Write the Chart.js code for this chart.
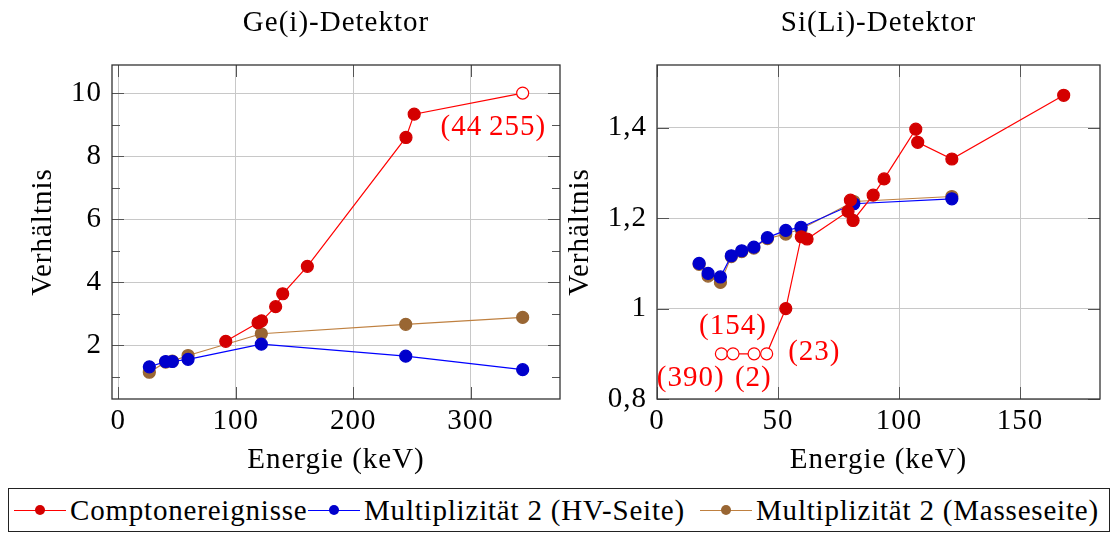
<!DOCTYPE html>
<html lang="de">
<head>
<meta charset="UTF-8">
<title>Ge(i)- und Si(Li)-Detektor</title>
<script src="https://cdn.jsdelivr.net/npm/chart.js@4.4.1/dist/chart.umd.js"></script>
<style>
  body { margin: 0; background: #fff; width: 1118px; height: 534px; position: relative; overflow: hidden;
         font-family: "Liberation Serif", "Times New Roman", serif; }
  canvas { position: absolute; top: 0; }
  #left { left: 0; }
  #right { left: 555px; }
  #legend { position: absolute; left: 8px; top: 488px; width: 1102px; height: 44px; border: 1px solid #222;
            box-sizing: border-box; }
  .item { position: absolute; top: 0; height: 42px; display: flex; align-items: center; font-size: 29px;
          letter-spacing: 0.8px; white-space: nowrap; color: #000; }
  .mark { position: relative; display: inline-block; width: 52px; height: 1px; margin-right: 4px; }
  .mark i { position: absolute; left: 21px; top: -4.5px; width: 10px; height: 10px; border-radius: 50%; }
</style>
</head>
<body>
<canvas id="left" width="570" height="480"></canvas>
<canvas id="right" width="563" height="480"></canvas>
<div id="legend"></div>

<script>
// series names (legend)
const seriesNames = ['Comptonereignisse', 'Multiplizität 2 (HV-Seite)', 'Multiplizität 2 (Masseseite)'];

// Ge(i)-Detektor
const geComptonE = [91.5, 119, 122, 134, 140, 161, 245, 252, 344.4];
const geComptonR = [2.12, 2.71, 2.77, 3.22, 3.63, 4.50, 8.59, 9.33, 10.0];
const geComptonOpen = [false, false, false, false, false, false, false, false, true];
const geHvE = [26.4, 40.3, 46, 59.4, 121.8, 244.8, 344.4];
const geHvR = [1.31, 1.48, 1.48, 1.55, 2.03, 1.65, 1.22];
const geMasseE = [26.4, 40.3, 46, 59.4, 121.8, 244.8, 344.4];
const geMasseR = [1.14, 1.46, 1.49, 1.67, 2.36, 2.66, 2.88];
const geYTicksMinor = [1, 3, 5, 7, 9];

// Si(Li)-Detektor
const siComptonE = [26.6, 31.4, 40.1, 45.3, 53.2, 59.6, 62.0, 78.9, 79.9, 81.0, 89.3, 93.8, 106.9, 107.7, 121.8, 168.0];
const siComptonR = [0.9, 0.9, 0.9, 0.9, 1.0, 1.159, 1.154, 1.215, 1.24, 1.195, 1.251, 1.287, 1.397, 1.368, 1.331, 1.472];
const siComptonOpen = [true, true, true, true, false, false, false, false, false, false, false, false, false, false, false, false];
const siHvE = [17.4, 21.1, 26.2, 30.7, 35.0, 40.0, 45.6, 53.2, 59.5, 81.3, 121.8];
const siHvR = [1.100, 1.078, 1.070, 1.117, 1.128, 1.136, 1.157, 1.173, 1.180, 1.232, 1.243];
const siMasseE = [17.4, 21.1, 26.2, 30.7, 35.0, 40.0, 45.6, 53.2, 59.5, 81.3, 121.8];
const siMasseR = [1.098, 1.072, 1.058, 1.115, 1.126, 1.134, 1.155, 1.165, 1.176, 1.237, 1.248];

// counts written next to out-of-range points
const geNotes = [{ text: '(44\u2009255)', x: 319.5, y: 8.92 }];
const siNotes = [
  { text: '(154)', x: 31.4, y: 0.96 },
  { text: '(390)', x: 13.9, y: 0.846 },
  { text: '(2)', x: 39.8, y: 0.846 },
  { text: '(23)', x: 65.0, y: 0.903 }
];

const FAMILY = '"Liberation Serif", "Times New Roman", serif';
const FONT = { family: FAMILY, size: 29, weight: 'normal' };
const GRID = '#c8c8c8';
const COLORS = [
  { line: '#ff0000', mark: '#d40000' },
  { line: '#0000ff', mark: '#0000cc' },
  { line: '#bf8040', mark: '#996633' }
];

function series(i, xs, ys, open) {
  const c = COLORS[i];
  return {
    label: seriesNames[i],
    data: xs.map((x, k) => ({ x: x, y: ys[k] })),
    borderColor: c.line,
    borderWidth: 1.2,
    pointRadius: 6,
    pointHoverRadius: 6,
    pointBorderWidth: 1.2,
    pointBorderColor: ctx => (open && open[ctx.dataIndex]) ? c.line : c.mark,
    pointBackgroundColor: ctx => (open && open[ctx.dataIndex]) ? '#ffffff' : c.mark,
    tension: 0,
    fill: false
  };
}

// the TeX font is a little wider than Liberation Serif
const spacing = {
  id: 'spacing',
  beforeDraw(chart) { chart.ctx.letterSpacing = '1px'; }
};

// frame + inside tick marks on all four sides
const frameTicks = {
  id: 'frameTicks',
  beforeDatasetsDraw(chart, args, opts) {
    const { ctx, chartArea: a, scales: { x, y } } = chart;
    ctx.save();
    ctx.strokeStyle = '#555';
    ctx.lineWidth = 1;
    ctx.beginPath();
    const yTick = (v, len) => {
      const p = Math.round(y.getPixelForValue(v)) + 0.5;
      ctx.moveTo(a.left, p); ctx.lineTo(a.left + len, p);
      ctx.moveTo(a.right, p); ctx.lineTo(a.right - len, p);
    };
    const xTick = (v, len) => {
      const p = Math.round(x.getPixelForValue(v)) + 0.5;
      ctx.moveTo(p, a.bottom); ctx.lineTo(p, a.bottom - len);
      ctx.moveTo(p, a.top); ctx.lineTo(p, a.top + len);
    };
    y.ticks.forEach(t => yTick(t.value, 12));
    x.ticks.forEach(t => xTick(t.value, 12));
    (opts.minorY || []).forEach(v => yTick(v, 8));
    ctx.stroke();
    ctx.strokeStyle = '#333';
    ctx.lineWidth = 1.3;
    ctx.strokeRect(a.left, a.top, a.right - a.left, a.bottom - a.top);
    ctx.restore();
  }
};

const notes = {
  id: 'notes',
  afterDatasetsDraw(chart, args, opts) {
    const { ctx, scales: { x, y } } = chart;
    ctx.save();
    ctx.font = FONT.size + 'px ' + FONT.family;
    ctx.fillStyle = '#ff0000';
    ctx.textAlign = 'center';
    ctx.textBaseline = 'middle';
    (opts.labels || []).forEach(n => ctx.fillText(n.text, x.getPixelForValue(n.x), y.getPixelForValue(n.y)));
    ctx.restore();
  }
};

function makeChart(id, cfg) {
  return new Chart(document.getElementById(id), {
    type: 'line',
    data: { datasets: cfg.datasets },
    plugins: [spacing, frameTicks, notes],
    options: {
      responsive: false,
      animation: false,
      events: [],
      layout: { padding: { left: 0, right: cfg.padRight, top: 0, bottom: 0 } },
      plugins: {
        legend: { display: false },
        tooltip: { enabled: false },
        title: {
          display: true, text: cfg.title, fullSize: false, color: '#000', font: FONT,
          padding: { top: 6, bottom: 65 - 6 - FONT.size * 1.2 }
        },
        frameTicks: { minorY: cfg.minorY },
        notes: { labels: cfg.notes }
      },
      scales: {
        x: {
          type: 'linear', min: cfg.xMin, max: cfg.xMax,
          afterFit: s => { s.height = 81; },
          ticks: { stepSize: cfg.xStep, color: '#000', font: FONT, padding: 5, maxRotation: 0, autoSkip: false, includeBounds: false },
          grid: { color: GRID, drawTicks: false },
          border: { display: false },
          title: { display: true, text: 'Energie (keV)', color: '#000', font: FONT, padding: { top: 0, bottom: 2.6 } }
        },
        y: {
          type: 'linear', min: cfg.yMin, max: cfg.yMax,
          afterFit: s => { s.width = cfg.yWidth; },
          ticks: { stepSize: cfg.yStep, color: '#000', font: FONT, padding: 10, autoSkip: false, includeBounds: false,
                   callback: v => String(Math.round(v * 10) / 10).replace('.', ',') },
          grid: { color: GRID, drawTicks: false },
          border: { display: false },
          title: { display: true, text: 'Verhältnis', color: '#000', font: FONT, padding: { top: cfg.yTitlePad, bottom: 0 } }
        }
      }
    }
  });
}

makeChart('left', {
  title: 'Ge(i)-Detektor',
  datasets: [
    series(0, geComptonE, geComptonR, geComptonOpen),
    series(1, geHvE, geHvR),
    series(2, geMasseE, geMasseR)
  ],
  notes: geNotes, minorY: geYTicksMinor,
  xMin: -5.4, xMax: 376.2, xStep: 100,
  yMin: 0.29, yMax: 10.89, yStep: 2,
  yWidth: 112, yTitlePad: 25.6, padRight: 10
});

makeChart('right', {
  title: 'Si(Li)-Detektor',
  datasets: [
    series(0, siComptonE, siComptonR, siComptonOpen),
    series(1, siHvE, siHvR),
    series(2, siMasseE, siMasseR)
  ],
  notes: siNotes, minorY: [],
  xMin: 0, xMax: 183, xStep: 50,
  yMin: 0.8, yMax: 1.539, yStep: 0.2,
  yWidth: 102, yTitlePad: 7.6, padRight: 18
});

// shared legend below both plots
const legend = document.getElementById('legend');
const legendLeft = [5, 299, 691];
seriesNames.forEach((name, i) => {
  const item = document.createElement('div');
  item.className = 'item';
  item.style.left = legendLeft[i] + 'px';
  const mark = document.createElement('span');
  mark.className = 'mark';
  mark.style.background = COLORS[i].line;
  const dot = document.createElement('i');
  dot.style.background = COLORS[i].mark;
  mark.appendChild(dot);
  item.appendChild(mark);
  item.appendChild(document.createTextNode(name));
  legend.appendChild(item);
});
</script>
</body>
</html>
